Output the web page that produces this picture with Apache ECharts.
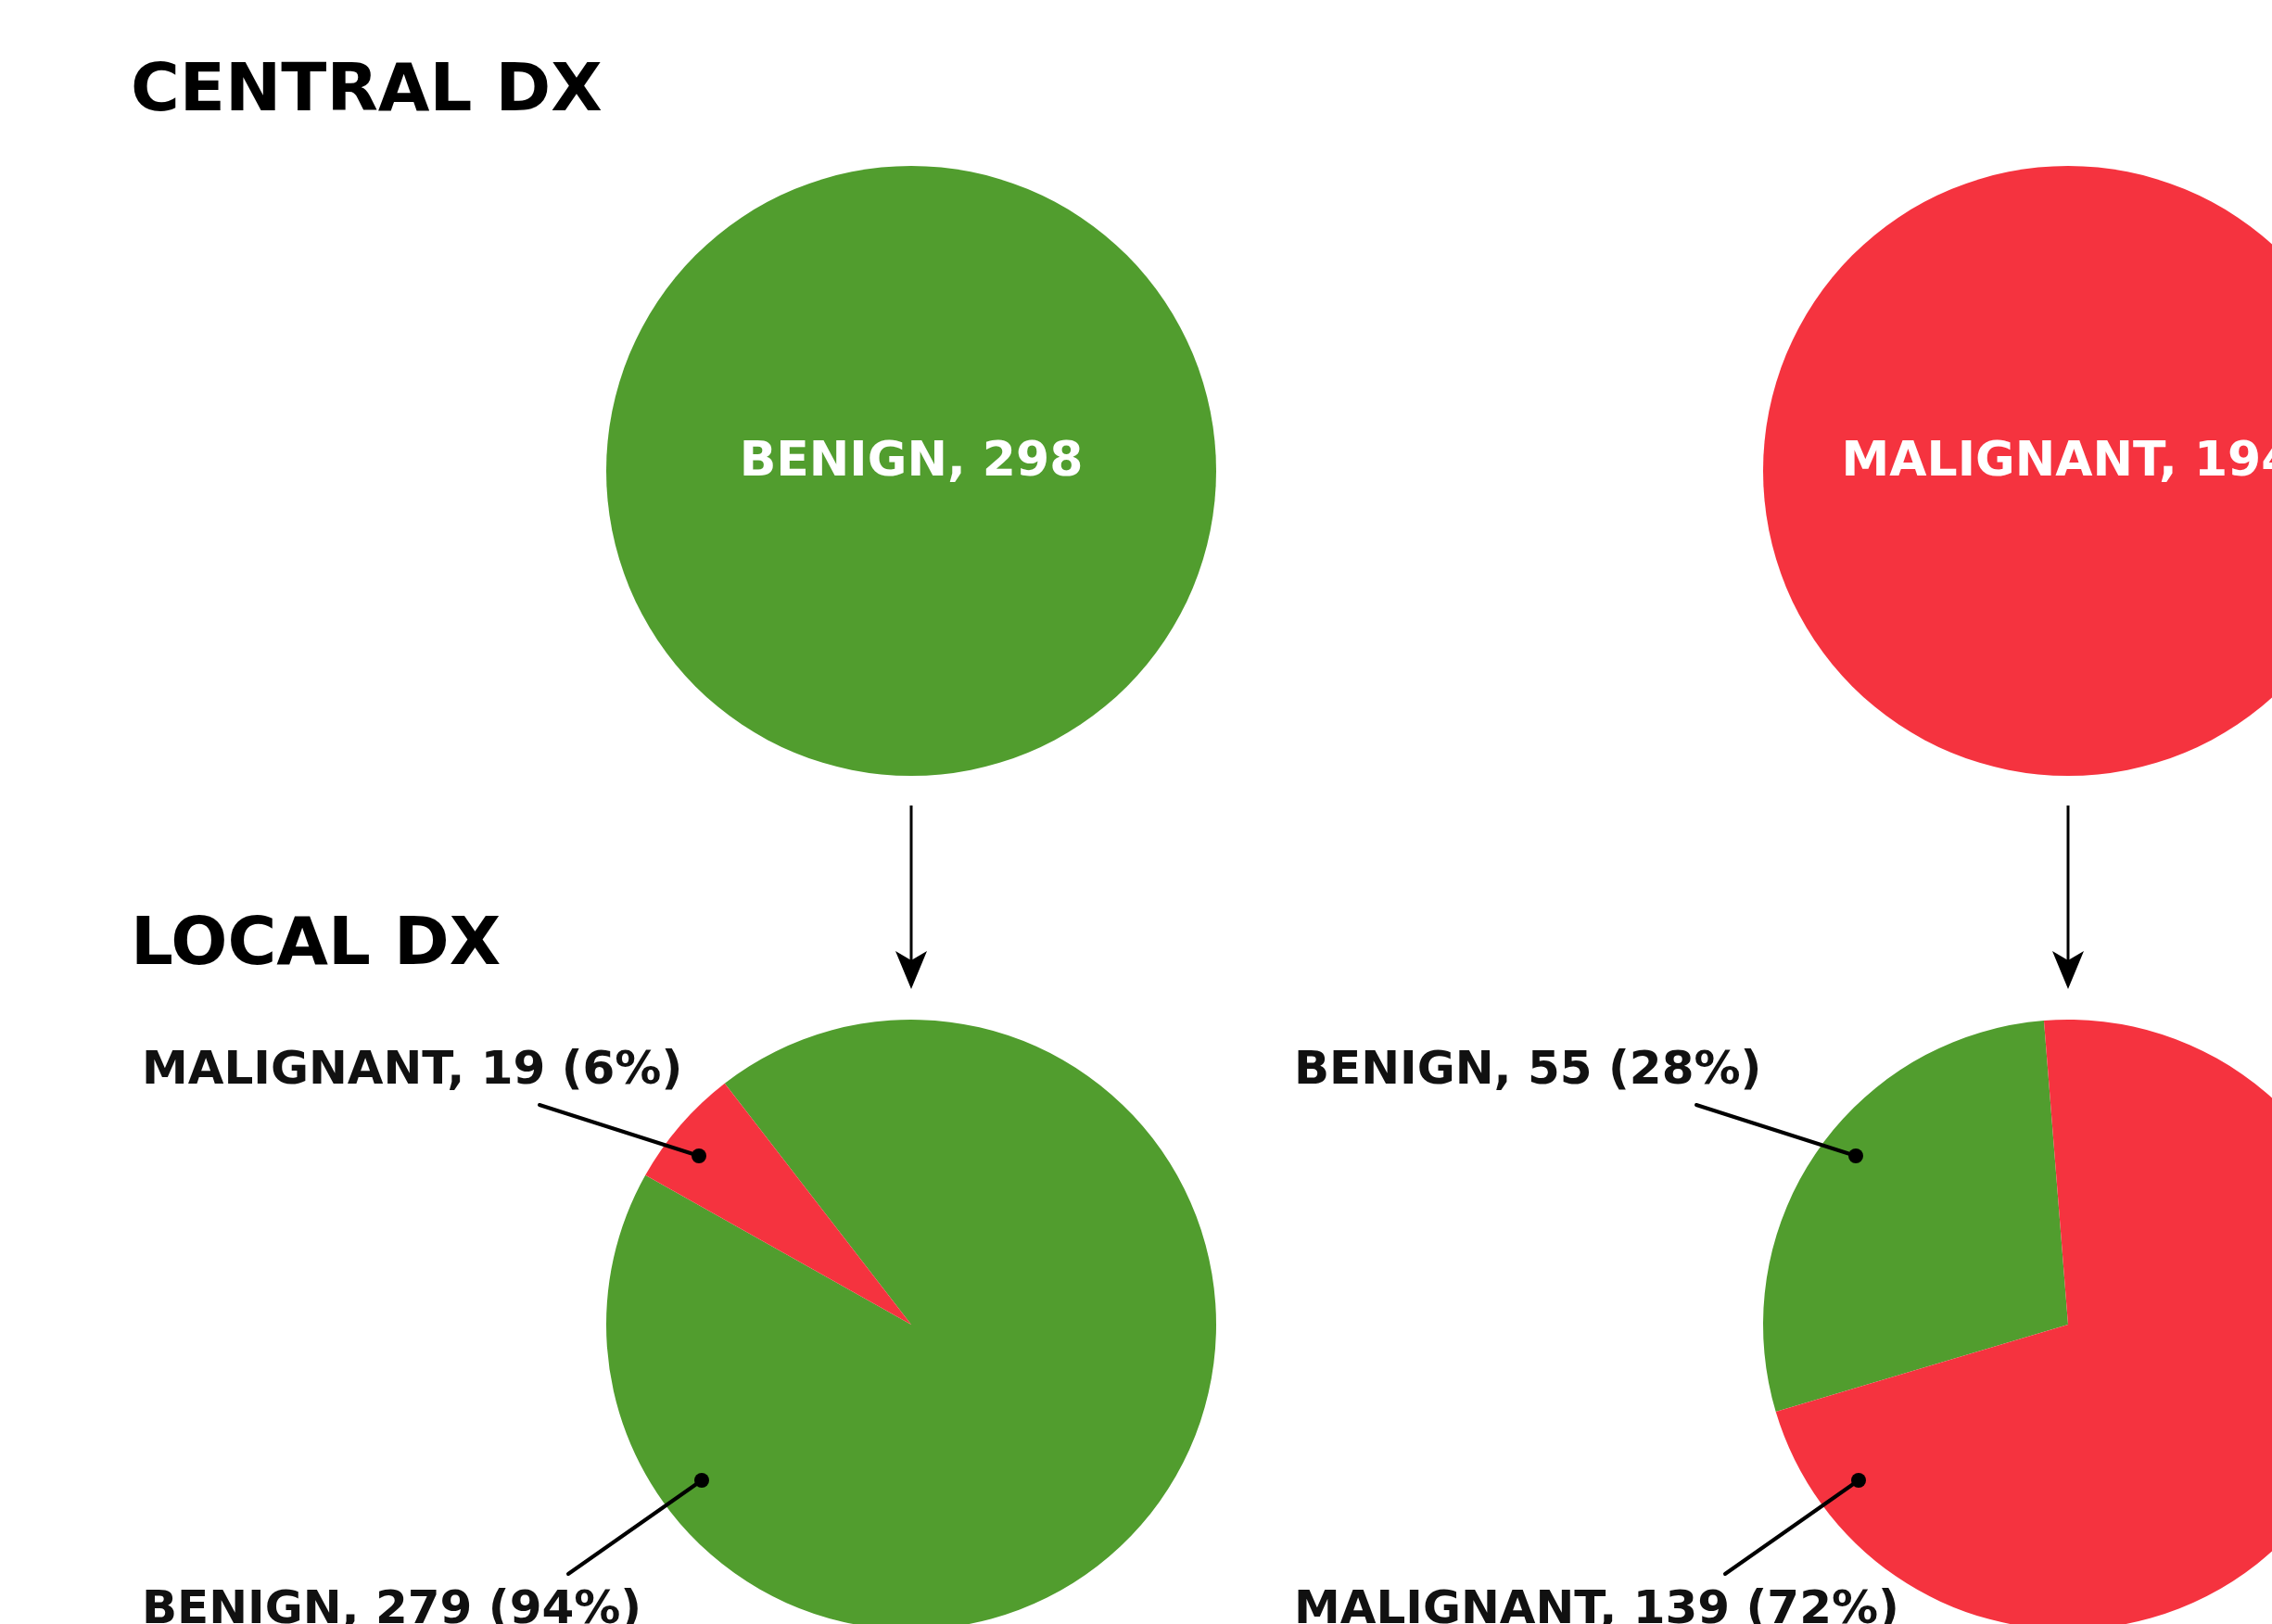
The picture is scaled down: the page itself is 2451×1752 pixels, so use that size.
<!DOCTYPE html>
<html>
<head>
<meta charset="utf-8">
<title>Central vs local diagnosis</title>
<script src="https://cdn.jsdelivr.net/npm/echarts@6/dist/echarts.min.js"></script>
<style>
  html, body { margin: 0; padding: 0; background: #fff; }
  #chart { width: 2451px; height: 1752px; }
</style>
</head>
<body>
<div id="chart"></div>
<script>
// central diagnosis (top circles)
const centralNames = ['BENIGN', 'MALIGNANT']
const centralCounts = [298, 194]
// local diagnosis split for each central group
const localNames = ['BENIGN', 'MALIGNANT']
const localOfCentralBenign = [279, 19]
const localOfCentralMalignant = [55, 139]
const sectionTitles = ['CENTRAL DX', 'LOCAL DX']

const colorOf = { BENIGN: '#519D2E', MALIGNANT: '#F5333F' }
const FONT = 'DejaVu Sans'

// layout
const colX = [983, 2231]
const topY = 508
const bottomY = 1429
const R = 329
const startAngles = [127.7, 196.6]
const labelLeft = [153, 1396]
// which slice's label sits above the pie (the smaller one)
const upperLabelIndex = [1, 0]

const localSets = [localOfCentralBenign, localOfCentralMalignant]

const chart = echarts.init(document.getElementById('chart'))

const series = []
colX.forEach((cx, i) => {
  series.push({
    type: 'pie',
    center: [cx, topY],
    radius: R,
    silent: true,
    itemStyle: { borderWidth: 0 },
    label: {
      show: true,
      position: 'center',
      formatter: '{b}, {c}',
      color: '#fff',
      fontFamily: FONT,
      fontWeight: 'bold',
      fontSize: 52
    },
    labelLayout: { dy: -9 },
    labelLine: { show: false },
    data: [{
      name: centralNames[i],
      value: centralCounts[i],
      itemStyle: { color: colorOf[centralNames[i]] }
    }]
  })
  series.push({
    type: 'pie',
    center: [cx, bottomY],
    radius: R,
    startAngle: startAngles[i],
    clockwise: true,
    percentPrecision: 0,
    silent: true,
    itemStyle: { borderWidth: 0 },
    label: {
      show: true,
      position: 'inside',
      rotate: 0,
      formatter: '{b}, {c} ({d}%)',
      color: '#111',
      fontFamily: FONT,
      fontWeight: 'bold',
      fontSize: 50
    },
    labelLine: { show: false },
    labelLayout: function (p) {
      const upper = p.dataIndex === upperLabelIndex[i]
      return {
        x: labelLeft[i],
        y: bottomY + (upper ? -273 : 309),
        align: 'left',
        verticalAlign: 'middle',
        rotate: 0
      }
    },
    data: localNames.map((n, k) => ({
      name: n,
      value: localSets[i][k],
      itemStyle: { color: colorOf[n] }
    }))
  })
})

// arrows, leader lines and dots
const graphic = []
const leaders = [
  { dot: [-229, -182], end: [-401, -237] },
  { dot: [-226, 168], end: [-370, 269] }
]
colX.forEach((cx) => {
  graphic.push({
    type: 'line',
    shape: { x1: cx, y1: 869, x2: cx, y2: 1038 },
    style: { stroke: '#000', lineWidth: 3 }
  })
  graphic.push({
    type: 'polygon',
    shape: { points: [[cx, 1067], [cx - 17, 1026], [cx, 1036], [cx + 17, 1026]] },
    style: { fill: '#000' }
  })
  leaders.forEach((l) => {
    graphic.push({
      type: 'line',
      shape: { x1: cx + l.end[0], y1: bottomY + l.end[1], x2: cx + l.dot[0], y2: bottomY + l.dot[1] },
      style: { stroke: '#000', lineWidth: 4, lineCap: 'round' },
      z: 10
    })
    graphic.push({
      type: 'circle',
      shape: { cx: cx + l.dot[0], cy: bottomY + l.dot[1], r: 8 },
      style: { fill: '#000' },
      z: 10
    })
  })
})

chart.setOption({
  backgroundColor: '#fff',
  animation: false,
  title: [
    {
      text: sectionTitles[0],
      left: 141,
      top: 64,
      padding: 0,
      textStyle: { fontFamily: FONT, fontWeight: 'bold', fontSize: 72, color: '#000', lineHeight: 72 }
    },
    {
      text: sectionTitles[1],
      left: 141,
      top: 985,
      padding: 0,
      textStyle: { fontFamily: FONT, fontWeight: 'bold', fontSize: 72, color: '#000', lineHeight: 72 }
    }
  ],
  series: series,
  graphic: graphic
})
</script>
</body>
</html>
